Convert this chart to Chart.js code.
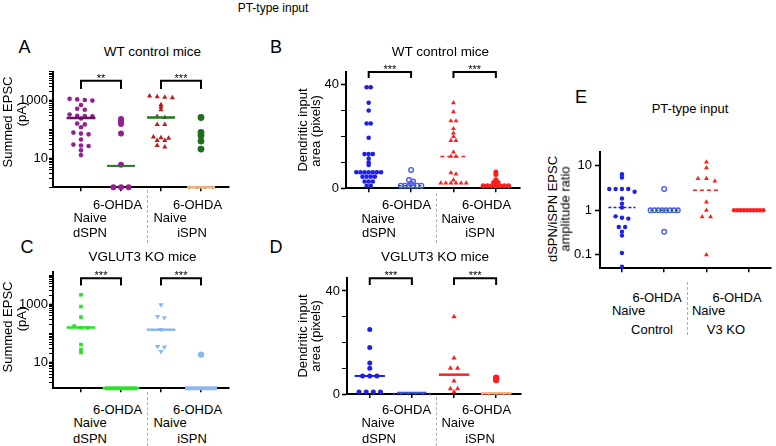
<!DOCTYPE html>
<html>
<head>
<meta charset="utf-8">
<title>PT-type input</title>
<script src="https://cdn.jsdelivr.net/npm/chart.js@4.4.1/dist/chart.umd.min.js"></script>
<style>
  body { margin: 0; background: #fff; font-family: "Liberation Sans", Arial, sans-serif; }
  #fig { position: relative; width: 776px; height: 446px; overflow: hidden; }
  #fig canvas { position: absolute; }
  .lbl { position: absolute; white-space: nowrap; line-height: 1; color: #000; transform: translate(-50%, -50%); }
  .rot { transform: translate(-50%, -50%) rotate(-90deg); }
  .sep { position: absolute; width: 0; border-left: 1px dashed #b0b0b0; }
</style>
</head>
<body>
<div id="fig">
  <canvas id="chartA" width="240" height="140" style="left:0px;top:60px"></canvas>
  <canvas id="chartB" width="225" height="145" style="left:300px;top:55px"></canvas>
  <canvas id="chartC" width="240" height="140" style="left:0px;top:260px"></canvas>
  <canvas id="chartD" width="225" height="142" style="left:300px;top:262px"></canvas>
  <canvas id="chartE" width="216" height="140" style="left:560px;top:140px"></canvas>
</div>
<script>
// ---- data ----
// A: summed EPSC (pA), WT control mice (0 = no response, drawn on the axis floor)
const aNaiveDSPN = [1150, 1100, 1050, 1000, 700, 520, 480, 330, 300, 290, 285, 240, 160, 150, 120, 78, 72, 68, 45, 30, 28, 27, 19, 13];
const aOhdaDSPN = [230, 190, 155, 72, 6, 0, 0, 0];
const aNaiveISPN = [1450, 1350, 1300, 1250, 720, 600, 480, 280, 260, 150, 150, 55, 52, 50, 42, 42, 28, 25];
const aOhdaISPN = [260, 80, 62, 40, 21, 0, 0, 0, 0];
const aMedians = [250, 5.5, 260, 0];
const aBracket = [2500, 4850];
const aStars = ["**", "***"];

// B: dendritic input area (pixels), WT control mice
const bNaiveDSPN = [39, 39, 33, 30, 25, 25, 19.5, 13.2, 13.2, 13.2, 11.5, 10, 9, 6.2, 6.2, 6.2, 6.2, 6.2, 6.2, 6.2, 4.5, 4.5, 4.5, 4.5, 2.6, 2.6, 2.6, 1, 1];
const bOhdaDSPN = [7.1, 3.2, 2.6, 1.9, 1, 1, 1, 1, 1, 1];
const bNaiveISPN = [33, 29.5, 26, 26, 23, 21.3, 20, 18.4, 18.4, 14, 12.3, 12.3, 6, 5.5, 3.2, 2, 2, 2, 2, 2, 2];
const bOhdaISPN = [6.3, 5.3, 3.3, 2.3, 2.3, 1, 1, 1, 1, 1, 1, 1];
const bMedians = [null, 1, 12.3, 1];
const bBracket = [42.6, 44.9];
const bStars = ["***", "***"];

// C: summed EPSC (pA), VGLUT3 KO mice
const cNaiveDSPN = [2100, 830, 360, 177, 155, 155, 41, 27.5, 22];
const cOhdaDSPN = [0, 0, 0, 0, 0, 0];
const cNaiveISPN = [950, 380, 340, 135, 35, 34, 24];
const cOhdaISPN = [18.6, 0, 0, 0, 0, 0];
const cMedians = [158, 0, 133, 0];
const cBracket = [4370, 7800];
const cStars = ["***", "***"];

// D: dendritic input area (pixels), VGLUT3 KO mice
const dNaiveDSPN = [25, 18, 12, 10, 7, 7, 7, 0.8, 0.8, 0.8, 0.8];
const dOhdaDSPN = [0, 0, 0, 0, 0, 0];
const dNaiveISPN = [30, 14, 10, 10, 5, 2, 2, 0.8];
const dOhdaISPN = [6.3, 5.4, 0, 0, 0, 0, 0];
const dMedians = [7, 0.5, 7.5, 0.3];
const dBracket = [42.3, 44.9];
const dStars = ["***", "***"];

// E: dSPN/iSPN EPSC amplitude ratio
const eCtrlNaive = [6.4, 5.4, 3, 3, 3, 3, 2.6, 1.83, 1.41, 1.15, 0.73, 0.68, 0.65, 0.42, 0.42, 0.33, 0.27, 0.11, 0.054];
const eCtrlOhda = [3, 1, 1, 1, 1, 1, 1, 1, 1, 0.33];
const eKoNaive = [12, 8.9, 5.1, 5.1, 4.5, 1.53, 1, 0.71, 0.71, 0.1];
const eKoOhda = [1, 1, 1, 1, 1, 1, 1, 1, 1, 1];
const eMedians = [1.15, 1, 2.8, 1];

const logTicksAC = [10, 1000];
const linTicksBD = [0, 40];
const logTicksE = [0.1, 1, 10];

// colours
const purple = "#931f93", purpleLine = "#6b0f5e", darkRed = "#b42020";
const darkGreen = "#1d6e1d", greenLine = "#1f7a1f", orange = "#f4b183";
const blue = "#1f1fe6", openBlue = "#4a5cf2", red = "#ff1f1f";
const brightGreen = "#2de02d", lightBlue = "#8ab8ee";

Chart.defaults.font.family = '"Liberation Sans", Arial, sans-serif';
Chart.defaults.font.size = 13;
Chart.defaults.color = "#000";

// decade ticks (with 2..9 minors if asked) inside [min, max]
function logTicks(min, max, minor) {
  const out = [];
  for (let k = -3; k <= 5; k++) {
    for (let m = 1; m <= (minor ? 9 : 1); m++) {
      const v = Math.round(m * Math.pow(10, k) * 1e6) / 1e6;
      if (v >= min && v <= max) out.push(v);
    }
  }
  return out;
}

// spread points of similar value side by side around the category
function swarm(values, cat, dx, thr, tf, floor) {
  const sorted = values.map(v => Math.max(v, floor)).sort((a, b) => b - a);
  const pts = [];
  let i = 0;
  while (i < sorted.length) {
    let j = i + 1;
    while (j < sorted.length && tf(sorted[i]) - tf(sorted[j]) <= thr) j++;
    const n = j - i;
    for (let k = 0; k < n; k++) pts.push({ x: cat + (k - (n - 1) / 2) * dx, y: sorted[i + k] });
    i = j;
  }
  return pts;
}

const starsPlugin = {
  id: "stars",
  afterDatasetsDraw(chart, args, opts) {
    const ctx = chart.ctx, xs = chart.scales.x, ys = chart.scales.y;
    ctx.save();
    ctx.fillStyle = "#000";
    ctx.font = '11px "Liberation Sans", Arial, sans-serif';
    ctx.textAlign = "center";
    ctx.textBaseline = "alphabetic";
    (opts.items || []).forEach(b => {
      ctx.fillText(b.text, xs.getPixelForValue((b.from + b.to) / 2), ys.getPixelForValue(b.hi) + 1);
    });
    ctx.restore();
  }
};

function panel(id, p) {
  const cv = document.getElementById(id);
  const cx = parseFloat(cv.style.left), cy = parseFloat(cv.style.top);
  const W = 36, H = 8;
  const isLog = p.yType === "logarithmic";
  const tf = isLog ? Math.log10 : (v => v);
  const floor = isLog ? p.yMin : 0;
  const datasets = [];

  p.groups.forEach((g, i) => {
    datasets.push({
      data: swarm(g.values, i, g.dx || p.dx, p.thr, tf, floor),
      pointStyle: g.style || "circle",
      rotation: g.rotation || 0,
      pointRadius: ctx => (g.zeroR && ctx.raw && ctx.raw.y <= floor) ? g.zeroR : g.r,
      backgroundColor: g.open ? "rgba(255,255,255,0)" : g.color,
      borderColor: g.color,
      borderWidth: g.open ? 1.4 : 0,
      clip: false,
      order: 2
    });
  });

  p.medians.forEach((m, i) => {
    if (m === null) return;
    const s = p.medianStyle[i];
    const y = Math.max(m, floor);
    datasets.push({
      data: [{ x: i - s.w, y: y }, { x: i + s.w, y: y }],
      showLine: true, pointRadius: 0, borderColor: s.color, borderWidth: s.lw,
      borderDash: s.dash || [], clip: false, order: 1
    });
  });

  p.brackets.forEach(b => {
    datasets.push({
      data: [{ x: b.from, y: b.lo }, { x: b.from, y: b.hi }, { x: b.to, y: b.hi }, { x: b.to, y: b.lo }],
      showLine: true, pointRadius: 0, borderColor: "#000", borderWidth: 2,
      borderJoinStyle: "miter", clip: false, order: 0
    });
  });

  new Chart(cv, {
    type: "scatter",
    data: { datasets: datasets },
    options: {
      responsive: false,
      animation: false,
      events: [],
      layout: {
        padding: {
          left: p.area.l - cx - W,
          top: p.area.t - cy,
          right: cx + cv.width - p.area.r,
          bottom: cy + cv.height - p.area.b - H
        }
      },
      plugins: { legend: { display: false }, tooltip: { enabled: false }, stars: { items: p.brackets } },
      scales: {
        x: {
          type: "linear", min: p.xMin, max: p.xMax,
          border: { color: "#000", width: 2 },
          grid: { drawOnChartArea: false, drawTicks: true, tickLength: 4, color: "#000", lineWidth: 1.5 },
          ticks: { display: false },
          afterBuildTicks: s => { s.ticks = [0, 1, 2, 3].map(v => ({ value: v })); },
          afterFit: s => { s.height = H; }
        },
        y: {
          type: p.yType, min: p.yMin, max: p.yMax,
          border: { color: "#000", width: 2 },
          grid: {
            drawOnChartArea: false, drawTicks: true, tickLength: p.tickLen, color: "#000",
            tickWidth: ctx => (ctx.tick && p.yLabels.includes(ctx.tick.value)) ? 1.6 : 1
          },
          ticks: {
            autoSkip: false, padding: p.tickPad, color: "#000", font: { size: 13 },
            callback: v => p.yLabels.includes(v) ? String(v) : ""
          },
          afterBuildTicks: s => { s.ticks = p.yTicks.map(v => ({ value: v })); },
          afterFit: s => { s.width = W; }
        }
      }
    },
    plugins: [starsPlugin]
  });
}

function brackets(lohi, stars) {
  return [
    { from: 0, to: 1, lo: lohi[0], hi: lohi[1], text: stars[0] },
    { from: 2, to: 3, lo: lohi[0], hi: lohi[1], text: stars[1] }
  ];
}

panel("chartA", {
  area: { l: 53, r: 229, t: 71.7, b: 187.3 },
  yType: "logarithmic", yMin: 1, yMax: 10000,
  yTicks: logTicks(1, 10000, true), yLabels: logTicksAC, tickLen: 4, tickPad: 1,
  xMin: -0.7, xMax: 3.7, dx: 0.19, thr: 0.07,
  groups: [
    { values: aNaiveDSPN, color: purple, r: 2.3 },
    { values: aOhdaDSPN, color: purple, r: 3 },
    { values: aNaiveISPN, color: darkRed, style: "triangle", r: 3 },
    { values: aOhdaISPN, color: darkGreen, r: 3.4, zeroR: 1.6, dx: 0.2 }
  ],
  medians: aMedians,
  medianStyle: [
    { color: purpleLine, lw: 2.5, w: 0.36 }, { color: greenLine, lw: 2, w: 0.35 },
    { color: greenLine, lw: 2.5, w: 0.35 }, { color: orange, lw: 2.5, w: 0.35 }
  ],
  brackets: brackets(aBracket, aStars)
});

panel("chartB", {
  area: { l: 346, r: 522, t: 71.7, b: 188.3 },
  yType: "linear", yMin: 0, yMax: 45,
  yTicks: [0, 10, 20, 30, 40], yLabels: linTicksBD, tickLen: 5, tickPad: 2,
  xMin: -0.535, xMax: 3.56, dx: 0.097, thr: 0.8,
  groups: [
    { values: bNaiveDSPN, color: blue, r: 2.3 },
    { values: bOhdaDSPN, color: openBlue, r: 2.3, open: true },
    { values: bNaiveISPN, color: red, style: "triangle", r: 2.8, dx: 0.12 },
    { values: bOhdaISPN, color: red, r: 2.5, dx: 0.1 }
  ],
  medians: bMedians,
  medianStyle: [
    null, { color: greenLine, lw: 1.5, w: 0.3, dash: [3, 2] },
    { color: red, lw: 1.5, w: 0.31, dash: [4, 3] }, { color: red, lw: 1.5, w: 0.31, dash: [4, 3] }
  ],
  brackets: brackets(bBracket, bStars)
});

panel("chartC", {
  area: { l: 53, r: 229, t: 271.7, b: 388.3 },
  yType: "logarithmic", yMin: 1.3, yMax: 13000,
  yTicks: logTicks(1.3, 13000, true), yLabels: logTicksAC, tickLen: 4, tickPad: 1,
  xMin: -0.7, xMax: 3.7, dx: 0.17, thr: 0.07,
  groups: [
    { values: cNaiveDSPN, color: brightGreen, style: "rect", r: 2.6 },
    { values: cOhdaDSPN, color: brightGreen, r: 1.5 },
    { values: cNaiveISPN, color: lightBlue, style: "triangle", rotation: 180, r: 3 },
    { values: cOhdaISPN, color: lightBlue, r: 3.2, zeroR: 1.5 }
  ],
  medians: cMedians,
  medianStyle: [
    { color: brightGreen, lw: 2.5, w: 0.36 }, { color: brightGreen, lw: 4, w: 0.4 },
    { color: lightBlue, lw: 2.5, w: 0.36 }, { color: lightBlue, lw: 4, w: 0.4 }
  ],
  brackets: brackets(cBracket, cStars)
});

panel("chartD", {
  area: { l: 347, r: 522, t: 278.3, b: 394 },
  yType: "linear", yMin: 0, yMax: 44.9,
  yTicks: [0, 10, 20, 30, 40], yLabels: linTicksBD, tickLen: 5, tickPad: 2,
  xMin: -0.54, xMax: 3.59, dx: 0.17, thr: 0.8,
  groups: [
    { values: dNaiveDSPN, color: blue, r: 2.5 },
    { values: dOhdaDSPN, color: blue, r: 1.2 },
    { values: dNaiveISPN, color: red, style: "triangle", r: 3 },
    { values: dOhdaISPN, color: red, r: 3.2, zeroR: 1.2 }
  ],
  medians: dMedians,
  medianStyle: [
    { color: blue, lw: 2, w: 0.36 }, { color: "#3a5ad0", lw: 2, w: 0.35 },
    { color: red, lw: 2.5, w: 0.36 }, { color: orange, lw: 2.5, w: 0.36 }
  ],
  brackets: brackets(dBracket, dStars)
});

panel("chartE", {
  area: { l: 600, r: 776, t: 151.7, b: 268.3 },
  yType: "logarithmic", yMin: 0.05, yMax: 20.5,
  yTicks: logTicks(0.05, 20.5, false), yLabels: logTicksE, tickLen: 5, tickPad: 3,
  xMin: -0.52, xMax: 3.52, dx: 0.15, thr: 0.07,
  groups: [
    { values: eCtrlNaive, color: blue, r: 2.2 },
    { values: eCtrlOhda, color: openBlue, r: 2.3, open: true, dx: 0.092 },
    { values: eKoNaive, color: red, style: "triangle", r: 2.8, dx: 0.2 },
    { values: eKoOhda, color: red, r: 2.2, dx: 0.077 }
  ],
  medians: eMedians,
  medianStyle: [
    { color: blue, lw: 1.5, w: 0.32, dash: [3, 2] }, { color: "#1d6e3a", lw: 1.5, w: 0.33, dash: [3, 2] },
    { color: red, lw: 1.5, w: 0.32, dash: [4, 3] }, { color: red, lw: 1.5, w: 0.33, dash: [4, 3] }
  ],
  brackets: []
});

// ---- text around the panels ----
const texts = [
  ["PT-type input", 273, 7.5, 12],
  ["A", 24.5, 46.5, 18], ["B", 276, 46.5, 18], ["C", 27, 246.5, 18], ["D", 276, 246.5, 18], ["E", 581, 97, 18],
  ["WT control mice", 152.5, 51.7, 13.5], ["WT control mice", 440.5, 51.7, 13.5],
  ["VGLUT3 KO mice", 142.5, 256.7, 13.5], ["VGLUT3 KO mice", 435, 256.7, 13.5],
  ["PT-type input", 690, 108.3, 13],
  ["6-OHDA", 117.5, 204, 13], ["6-OHDA", 197.5, 204, 13], ["Naive", 90, 217.3, 13], ["Naive", 170, 217.3, 13],
  ["dSPN", 90, 232.3, 13], ["iSPN", 192, 232.3, 13],
  ["6-OHDA", 406.5, 203.5, 13], ["6-OHDA", 486.5, 203.5, 13], ["Naive", 378, 217.5, 13], ["Naive", 458, 217.5, 13],
  ["dSPN", 379, 232.3, 13], ["iSPN", 480, 232.3, 13],
  ["6-OHDA", 117.5, 409, 13], ["6-OHDA", 197.5, 409, 13], ["Naive", 90, 422.3, 13], ["Naive", 170, 422.3, 13],
  ["dSPN", 90, 438.3, 13], ["iSPN", 192, 438.3, 13],
  ["6-OHDA", 406.5, 409, 13], ["6-OHDA", 486.5, 409, 13], ["Naive", 378, 422.3, 13], ["Naive", 458, 422.3, 13],
  ["dSPN", 379, 438.3, 13], ["iSPN", 480, 438.3, 13],
  ["6-OHDA", 657, 297, 13], ["6-OHDA", 737, 297, 13], ["Naive", 628.5, 309.5, 13], ["Naive", 708.5, 309.5, 13],
  ["Control", 652, 329.3, 13], ["V3 KO", 726, 329.3, 13]
];
const yTitles = [
  ["Summed EPSC", 6.5, 121.7], ["(pA)", 20.5, 114],
  ["Summed EPSC", 6.5, 326.7], ["(pA)", 20.5, 319],
  ["Dendritic input", 302, 130], ["area (pixels)", 315, 131],
  ["Dendritic input", 302, 336], ["area (pixels)", 315, 336],
  ["dSPN/iSPN EPSC", 552, 209], ["amplitude ratio", 565, 209]
];
const separators = [[147, 190, 243], [147, 392, 446], [436, 193, 243], [436, 397, 446], [687, 282, 335]];

const fig = document.getElementById("fig");
texts.forEach(t => {
  const d = document.createElement("div");
  d.className = "lbl";
  d.textContent = t[0];
  d.style.left = t[1] + "px";
  d.style.top = t[2] + "px";
  d.style.fontSize = t[3] + "px";
  fig.appendChild(d);
});
yTitles.forEach(t => {
  const d = document.createElement("div");
  d.className = "lbl rot";
  d.textContent = t[0];
  d.style.left = t[1] + "px";
  d.style.top = t[2] + "px";
  d.style.fontSize = "13px";
  fig.appendChild(d);
});
separators.forEach(s => {
  const d = document.createElement("div");
  d.className = "sep";
  d.style.left = s[0] + "px";
  d.style.top = s[1] + "px";
  d.style.height = (s[2] - s[1]) + "px";
  fig.appendChild(d);
});
</script>
</body>
</html>
